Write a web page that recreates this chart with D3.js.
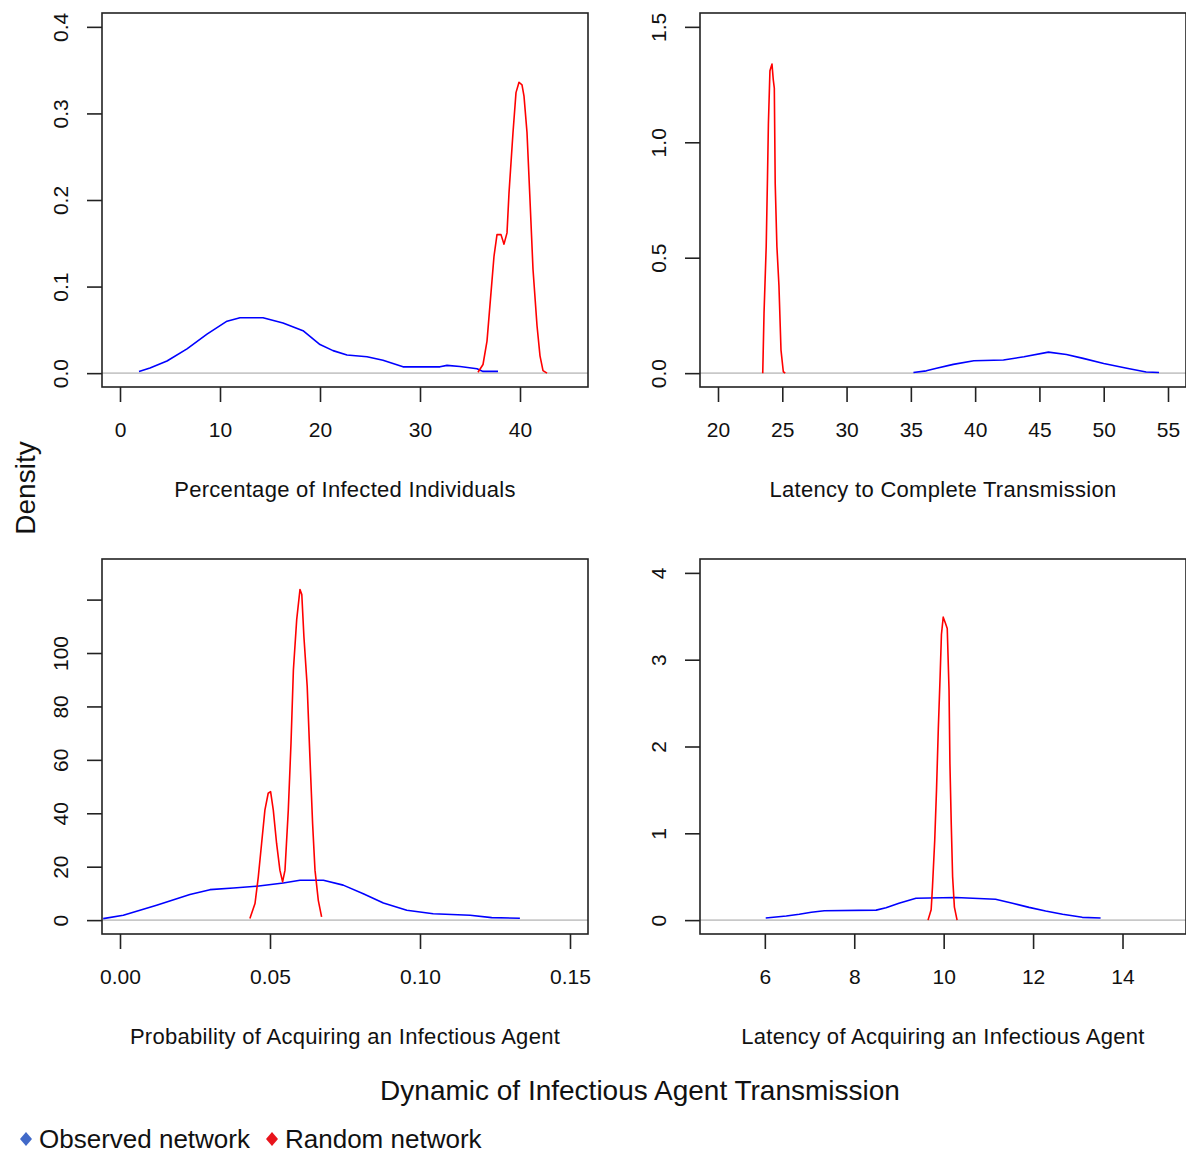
<!DOCTYPE html>
<html>
<head>
<meta charset="utf-8">
<script src="https://cdn.jsdelivr.net/npm/d3@7"></script>
<style>
  html, body { margin: 0; padding: 0; background: #fff; }
  svg { display: block; }
  text { font-family: "Liberation Sans", Arial, sans-serif; fill: #111; }
</style>
</head>
<body>
<script>
// ---------------- DATA ----------------
const seriesNames = ["Observed network", "Random network"];
const seriesColors = ["#0000ff", "#ff0000"];

// Panel 1: Percentage of Infected Individuals
const p1Observed = [[1.9,0.002],[3.0,0.006],[4.7,0.014],[6.7,0.028],[8.7,0.045],[10.7,0.060],[12.0,0.064],[14.3,0.064],[16.3,0.058],[18.3,0.049],[20.0,0.033],[21.3,0.026],[22.7,0.021],[24.7,0.019],[26.3,0.015],[28.3,0.0073],[32.0,0.0073],[32.7,0.009],[34.0,0.0077],[35.7,0.005],[36.3,0.002],[37.8,0.002]];
const p1Random = [[35.8,0.001],[36.3,0.010],[36.7,0.037],[37.1,0.093],[37.4,0.135],[37.7,0.160],[38.1,0.160],[38.4,0.149],[38.7,0.162],[38.9,0.208],[39.3,0.278],[39.6,0.324],[39.9,0.336],[40.2,0.333],[40.4,0.320],[40.7,0.278],[41.0,0.200],[41.3,0.120],[41.7,0.055],[42.0,0.020],[42.3,0.003],[42.7,0.0]];
const p1XTicks = [0,10,20,30,40];
const p1XLabels = ["0","10","20","30","40"];
const p1YTicks = [0,0.1,0.2,0.3,0.4];
const p1YLabels = ["0.0","0.1","0.2","0.3","0.4"];

// Panel 2: Latency to Complete Transmission
const p2Observed = [[35.2,0.003],[36.2,0.010],[37.0,0.021],[38.3,0.038],[39.9,0.054],[42.2,0.057],[43.8,0.071],[45.7,0.091],[47.1,0.081],[48.4,0.064],[50.0,0.042],[51.8,0.021],[53.3,0.005],[54.3,0.003]];
const p2Random = [[23.48,0.0],[23.58,0.26],[23.75,0.55],[23.85,0.85],[23.92,1.08],[24.04,1.31],[24.2,1.339],[24.3,1.27],[24.38,1.235],[24.45,0.82],[24.58,0.55],[24.74,0.38],[24.9,0.10],[25.08,0.006],[25.23,0.0]];
const p2XTicks = [20,25,30,35,40,45,50,55];
const p2XLabels = ["20","25","30","35","40","45","50","55"];
const p2YTicks = [0,0.5,1.0,1.5];
const p2YLabels = ["0.0","0.5","1.0","1.5"];

// Panel 3: Probability of Acquiring an Infectious Agent
const p3Observed = [[-0.0056,0.56],[0.0011,1.8],[0.0122,5.6],[0.0233,9.6],[0.030,11.4],[0.0378,12.0],[0.0456,12.7],[0.0544,13.9],[0.060,14.9],[0.0678,14.9],[0.0744,13.1],[0.0811,9.9],[0.0878,6.4],[0.0956,3.7],[0.1044,2.4],[0.1167,1.8],[0.1239,0.94],[0.1333,0.68]];
const p3Random = [[0.0433,0.56],[0.045,6.2],[0.0461,16.2],[0.0472,28.7],[0.0483,41.2],[0.0494,47.5],[0.0502,48.1],[0.0511,41.2],[0.0522,28.7],[0.0533,18.7],[0.0542,14.3],[0.055,18.7],[0.0561,41.2],[0.057,66.2],[0.0578,93.7],[0.0589,112.5],[0.060,123.8],[0.0606,121.9],[0.0613,106.2],[0.0624,87.5],[0.0633,61.2],[0.0642,36.2],[0.065,18.7],[0.0661,7.4],[0.0672,1.2]];
const p3XTicks = [0,0.05,0.10,0.15];
const p3XLabels = ["0.00","0.05","0.10","0.15"];
const p3YTicks = [0,20,40,60,80,100,120];
const p3YLabels = ["0","20","40","60","80","100",""];

// Panel 4: Latency of Acquiring an Infectious Agent
const p4Observed = [[6.02,0.024],[6.48,0.047],[6.77,0.067],[7.04,0.09],[7.33,0.108],[8.49,0.115],[8.71,0.143],[9.0,0.194],[9.38,0.251],[10.27,0.26],[11.16,0.24],[11.54,0.194],[11.91,0.147],[12.28,0.105],[12.66,0.067],[13.1,0.032],[13.51,0.024]];
const p4Random = [[9.65,0.0],[9.72,0.12],[9.75,0.385],[9.8,0.92],[9.84,1.5],[9.88,2.2],[9.92,2.8],[9.95,3.29],[9.99,3.49],[10.04,3.42],[10.08,3.36],[10.12,2.65],[10.14,1.8],[10.17,1.1],[10.2,0.5],[10.24,0.15],[10.3,0.0]];
const p4XTicks = [6,8,10,12,14];
const p4XLabels = ["6","8","10","12","14"];
const p4YTicks = [0,1,2,3,4];
const p4YLabels = ["0","1","2","3","4"];

const axisTitles = ["Percentage of Infected Individuals","Latency to Complete Transmission","Probability of Acquiring an Infectious Agent","Latency of Acquiring an Infectious Agent"];
const yTitle = "Density";
const mainTitle = "Dynamic of Infectious Agent Transmission";

// ---------------- LAYOUT ----------------
const W = 1186, H = 1153;
const svg = d3.select("body").append("svg").attr("width", W).attr("height", H);

const panels = [
  {left:102, top:13, w:486, h:374, xd:[-1.8,46.8], yd:[-0.016,0.416], obs:p1Observed, rnd:p1Random, xt:p1XTicks, xl:p1XLabels, yt:p1YTicks, yl:p1YLabels, title:axisTitles[0]},
  {left:700, top:13, w:486, h:374, xd:[18.6,56.4], yd:[-0.06,1.56], obs:p2Observed, rnd:p2Random, xt:p2XTicks, xl:p2XLabels, yt:p2YTicks, yl:p2YLabels, title:axisTitles[1]},
  {left:102, top:559, w:486, h:375, xd:[-0.006,0.156], yd:[-5.2,135.2], obs:p3Observed, rnd:p3Random, xt:p3XTicks, xl:p3XLabels, yt:p3YTicks, yl:p3YLabels, title:axisTitles[2]},
  {left:700, top:559, w:486, h:375, xd:[4.55,15.42], yd:[-0.16,4.16], obs:p4Observed, rnd:p4Random, xt:p4XTicks, xl:p4XLabels, yt:p4YTicks, yl:p4YLabels, title:axisTitles[3]}
];

panels.forEach(p => {
  const g = svg.append("g").attr("transform", `translate(${p.left},${p.top})`);
  const x = d3.scaleLinear().domain(p.xd).range([0, p.w]);
  const y = d3.scaleLinear().domain(p.yd).range([p.h, 0]);

  // zero reference line
  g.append("line").attr("x1", 0).attr("x2", p.w).attr("y1", y(0)).attr("y2", y(0))
    .attr("stroke", "#c8c8c8").attr("stroke-width", 1.6);

  const line = d3.line().x(d => x(d[0])).y(d => y(d[1]));
  [p.obs, p.rnd].forEach((data, i) => {
    g.append("path").datum(data).attr("d", line)
      .attr("fill", "none").attr("stroke", seriesColors[i]).attr("stroke-width", 1.6)
      .attr("stroke-linejoin", "round");
  });

  // box
  g.append("rect").attr("x", 0).attr("y", 0).attr("width", p.w).attr("height", p.h)
    .attr("fill", "none").attr("stroke", "#222").attr("stroke-width", 1.6);

  // x axis
  const xa = d3.axisBottom(x).tickValues(p.xt).tickFormat((d, i) => p.xl[i]).tickSize(15).tickPadding(20);
  const gx = g.append("g").attr("transform", `translate(0,${p.h})`).call(xa);
  gx.select(".domain").remove();
  gx.selectAll(".tick line").attr("stroke", "#222").attr("stroke-width", 1.6);
  gx.selectAll(".tick text").attr("font-size", 21).attr("fill", "#111")
    .attr("font-family", "Liberation Sans, Arial, sans-serif");

  // y axis
  const ya = d3.axisLeft(y).tickValues(p.yt).tickFormat((d, i) => p.yl[i]).tickSize(15).tickPadding(0);
  const gy = g.append("g").call(ya);
  gy.select(".domain").remove();
  gy.selectAll(".tick line").attr("stroke", "#222").attr("stroke-width", 1.6);
  gy.selectAll(".tick text").attr("font-size", 21).attr("fill", "#111")
    .attr("font-family", "Liberation Sans, Arial, sans-serif")
    .attr("x", null)
    .attr("text-anchor", "middle")
    .attr("transform", "translate(-41,0) rotate(-90)")
    .attr("dy", "0.35em");

  // axis title
  g.append("text").attr("x", p.w / 2).attr("y", p.h + 110)
    .attr("text-anchor", "middle").attr("font-size", 22)
    .attr("letter-spacing", "0.3px").text(p.title);
});

// y title
svg.append("text").attr("transform", "translate(35,488) rotate(-90)")
  .attr("text-anchor", "middle").attr("font-size", 28).text(yTitle);

// main title
svg.append("text").attr("x", 640).attr("y", 1100)
  .attr("text-anchor", "middle").attr("font-size", 28).text(mainTitle);

// legend
const legendX = [26, 272];
const legendColors = ["#4169c8", "#e8141c"];
seriesNames.forEach((name, i) => {
  const lg = svg.append("g").attr("transform", `translate(${legendX[i]},1139)`);
  lg.append("path").attr("d", "M0,-7 L6,0 L0,7 L-6,0 Z").attr("fill", legendColors[i]);
  lg.append("text").attr("x", 13).attr("y", 0).attr("dy", "0.35em")
    .attr("font-size", 26).text(name);
});
</script>
</body>
</html>
